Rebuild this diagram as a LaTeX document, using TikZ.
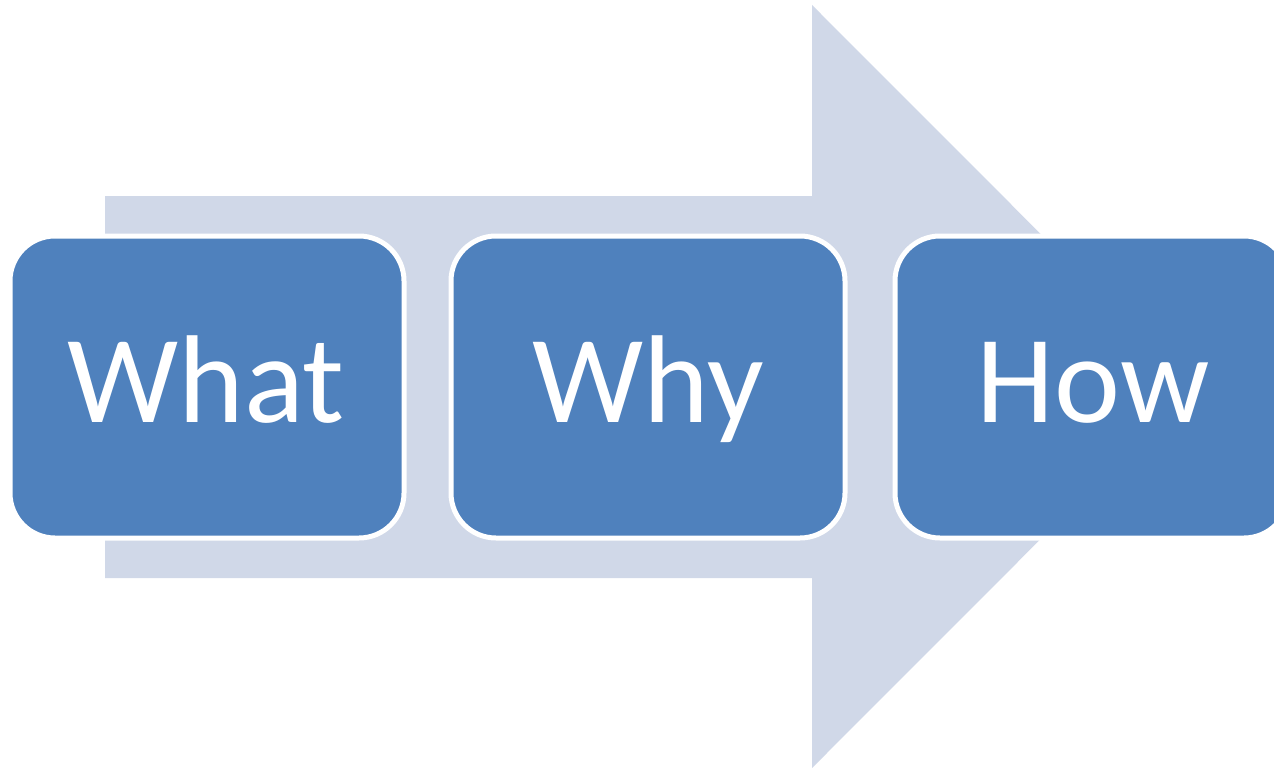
\documentclass[tikz,border=0pt]{standalone}
\usepackage{fontspec}
\setmainfont{Carlito}
\definecolor{boxblue}{HTML}{4F81BD}
\definecolor{arrowgray}{HTML}{D0D8E8}
\begin{document}
\begin{tikzpicture}[x=1pt,y=-1pt,
  stagebox/.style={rectangle, rounded corners=45pt, fill=boxblue, draw=white, line width=5pt,
    minimum width=394pt, minimum height=302pt, inner sep=0pt},
  stagetext/.style={anchor=base, text=white, inner sep=0pt, font=\fontsize{125}{125}\selectfont}]
\fill[white] (0,0) rectangle (1274,768);
\clip (0,0) rectangle (1274,768);
\useasboundingbox (0,0) rectangle (1274,768);
% big background arrow
\fill[arrowgray] (105,196) -- (812,196) -- (812,5) -- (1193,386.5) -- (812,768) -- (812,578) -- (105,578) -- cycle;
% boxes
\node[stagebox] (what) at (207,387) {};
\node[stagebox] (why) at (648,387) {};
\node[stagebox] (how) at (1092,387) {};
% labels
\node[stagetext] (whatlbl) at (206,422) {What};
\node[stagetext] (whylbl) at (648,422) {Why};
\node[stagetext] (howlbl) at (1093,422) {How};
\end{tikzpicture}
\end{document}
